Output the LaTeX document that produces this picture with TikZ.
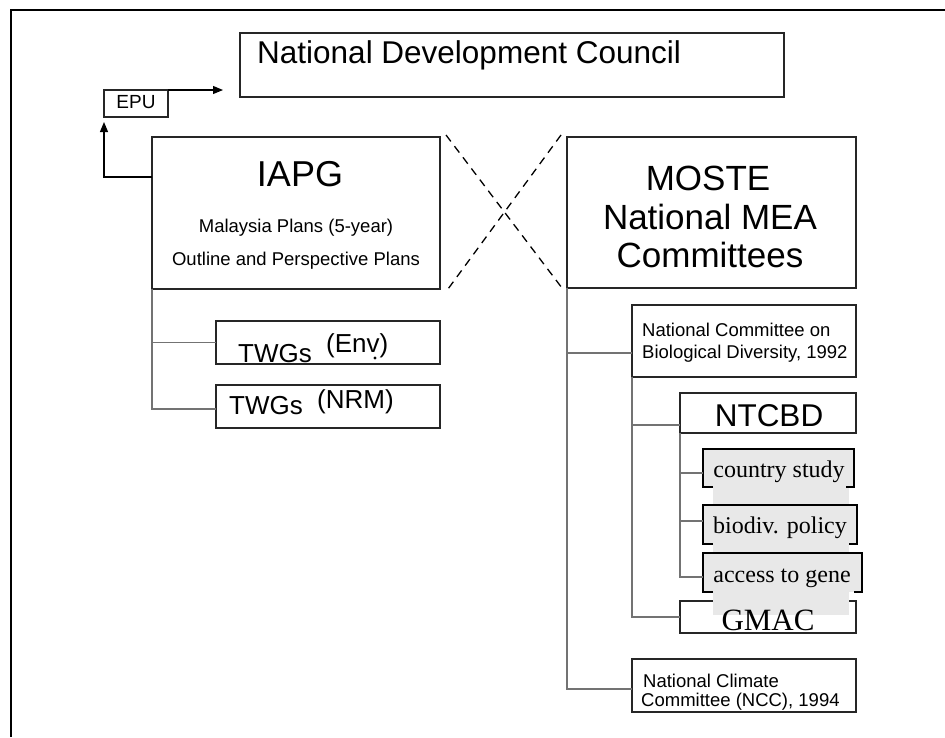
\documentclass[tikz,border=0pt]{standalone}
\usepackage{fontspec}
\setmainfont{Liberation Sans}
\newfontfamily\tnrfont{Liberation Serif}
\usetikzlibrary{arrows.meta}
\newcommand\myfs[1]{\fontsize{#1}{#1}\selectfont}
\begin{document}
\begin{tikzpicture}[x=1pt,y=-1pt,
  box/.style={draw=black!85,line width=1.1pt,inner sep=0pt,outer sep=0pt,fill=white,anchor=north west},
  gbox/.style={fill=black!9,inner sep=0pt,outer sep=0pt,anchor=north west},
  conn/.style={draw=black!55,line width=1.4pt},
  arr/.style={draw=black,line width=1.1pt,-{Triangle[length=10pt,width=8pt]}},
  txt/.style={inner sep=0pt,anchor=base},
  ltxt/.style={inner sep=0pt,anchor=base west},
  xdash/.style={draw=black,line width=1.3pt,dash pattern=on 8pt off 6pt},
  gline/.style={draw=black,line width=2.4pt}]
\useasboundingbox (0,0) rectangle (945,737);
\fill[white] (0,0) rectangle (945,737);
% frame
\draw[line width=2pt] (11,737) -- (11,10) -- (945,10);

% boxes
\node[box,minimum width=544,minimum height=64] (ndc) at (240,33) {};
\node[box,minimum width=64,minimum height=27] (epu) at (104,90) {};
\node[box,minimum width=288,minimum height=152] (iapg) at (152,137) {};
\node[box,minimum width=289,minimum height=151] (moste) at (567,137) {};
\node[box,minimum width=224,minimum height=43] (twgenv) at (216,321) {};
\node[box,minimum width=224,minimum height=43] (twgnrm) at (216,385) {};
\node[box,minimum width=224,minimum height=72] (natcom) at (632,305) {};
\node[box,minimum width=176,minimum height=40] (ntcbd) at (680,393) {};
\node[box,minimum width=176,minimum height=32] (gmac) at (680,601) {};
\node[box,minimum width=224,minimum height=53] (ncc) at (632,659) {};

% gray shaded block
\fill[black!9] (713,449) rectangle (849,615);
\node[gbox,minimum width=151,minimum height=38] (country) at (703,449) {};
\node[gbox,minimum width=154,minimum height=39] (biodiv) at (703,505) {};
\node[gbox,minimum width=159,minimum height=39] (access) at (703,553) {};
\foreach \b in {country,biodiv,access}
  \draw[gline] ([xshift=10pt]\b.south west) -- (\b.south west) -- (\b.north west)
     -- (\b.north east) -- (\b.south east) -- ([xshift=-8pt]\b.south east);

% connectors
\draw[conn] (iapg.south west) |- (twgenv.west);
\draw[conn] (iapg.south west) |- ([yshift=-2.5pt]twgnrm.west);
\draw[conn] (moste.south west) |- ([yshift=-12pt]natcom.west);
\draw[conn] (moste.south west) |- ([yshift=-3.5pt]ncc.west);
\draw[conn] (natcom.south west) |- ([yshift=-12pt]ntcbd.west);
\draw[conn] (natcom.south west) |- (gmac.west);
\draw[conn] (ntcbd.south west) |- ([yshift=-5pt]country.west);
\draw[conn] (ntcbd.south west) |- ([yshift=3.5pt]biodiv.west);
\draw[conn] (ntcbd.south west) |- ([yshift=-4.5pt]access.west);

% arrows
\coordinate (iapgout) at (152,177);
\coordinate (ndcin) at (223,90);
\draw[arr] (iapgout) -| ([yshift=-5pt]epu.south west);
\draw[arr] (epu.north east) -- (ndcin);

% dashed cross
\coordinate (xa1) at (446,135);
\coordinate (xa2) at (562,288);
\coordinate (xb1) at (561,135);
\coordinate (xb2) at (448,289);
\draw[xdash] (xa1) -- (xa2);
\draw[xdash] (xb1) -- (xb2);

% texts
\node[ltxt,font=\myfs{31.5}] (ndct) at (257,63) {National Development Council};
\node[txt,font=\myfs{19}] (eput) at (136,108) {EPU};
\node[txt,font=\myfs{36}] (iapgt) at (300,186) {IAPG};
\node[txt,font=\myfs{18.5}] (iapgt2) at (296,232) {Malaysia Plans (5-year)};
\node[txt,font=\myfs{18.5}] (iapgt3) at (296,265) {Outline and Perspective Plans};
\node[txt,font=\myfs{35}] (mostet1) at (708,190) {MOSTE};
\node[txt,font=\myfs{35}] (mostet2) at (710,229) {National MEA};
\node[txt,font=\myfs{35}] (mostet3) at (710,267) {Committees};
\node[ltxt,font=\myfs{26}] (env1) at (238,362) {TWGs};
\node[ltxt,font=\myfs{26}] (env2) at (326,352) {(Env)};
\fill (375,358) circle (1.6);
\node[ltxt,font=\myfs{26}] (nrm1) at (229,414) {TWGs};
\node[ltxt,font=\myfs{26}] (nrm2) at (317,408) {(NRM)};
\node[ltxt,font=\myfs{18.5}] (nct1) at (642,336) {National Committee on};
\node[ltxt,font=\myfs{18.5}] (nct2) at (642,358) {Biological Diversity, 1992};
\node[txt,font=\myfs{31.5}] (ntcbdt) at (769,426) {NTCBD};
\node[txt,font=\tnrfont\myfs{24}] (countryt) at (779,477) {country study};
\node[txt,font=\tnrfont\myfs{24}] (biodivt) at (780,533) {biodiv. policy};
\node[txt,font=\tnrfont\myfs{24}] (accesst) at (782,582) {access to gene};
\node[txt,font=\tnrfont\myfs{31}] (gmact) at (768,630) {GMAC};
\node[ltxt,font=\myfs{18.5}] (ncct1) at (643,687) {National Climate};
\node[ltxt,font=\myfs{18.5}] (ncct2) at (641,706) {Committee (NCC), 1994};
\end{tikzpicture}
\end{document}
